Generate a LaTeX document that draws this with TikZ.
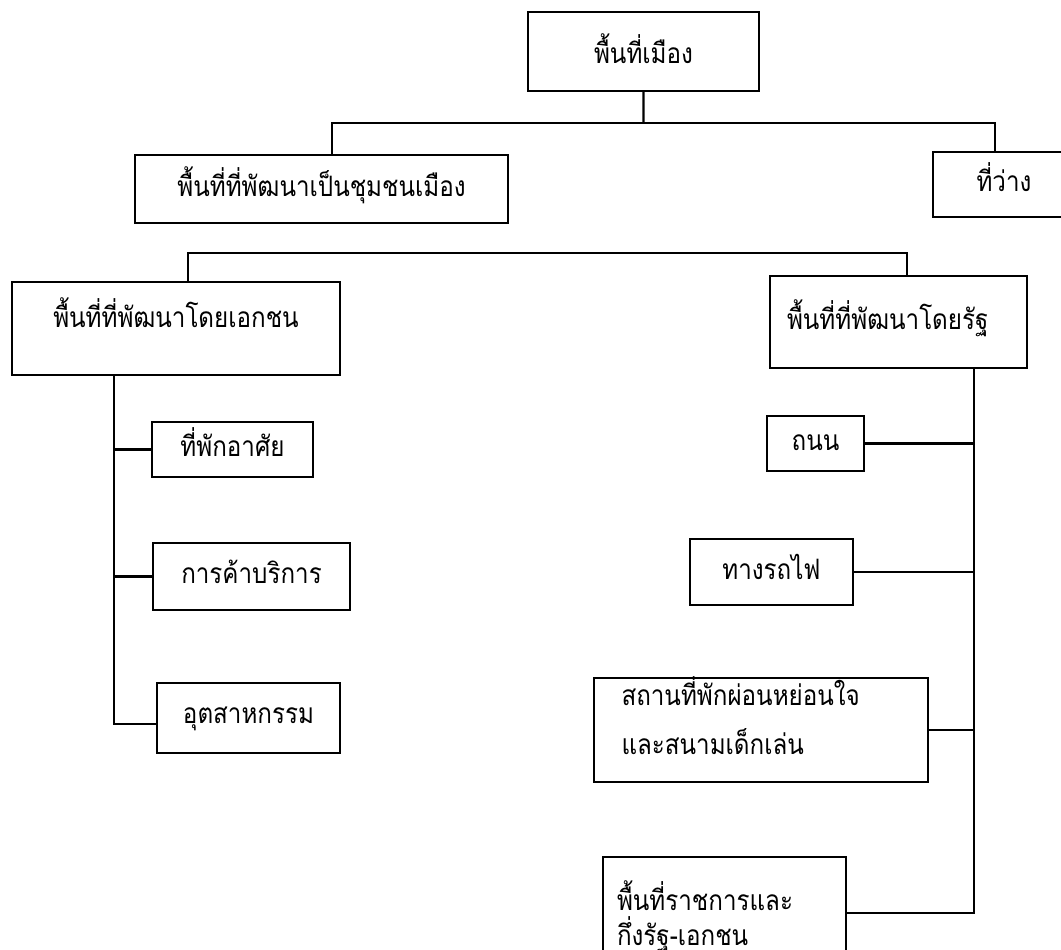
\documentclass[tikz,border=0pt]{standalone}
\usepackage{fontspec}
\newfontfamily\thaifont[Script=Thai,FakeStretch=0.86]{Loma}
\usetikzlibrary{calc}

\begin{document}
\begin{tikzpicture}[scale=0.2]
\tikzstyle{every node}+=[inner sep=0pt]
\tikzstyle{box}=[draw, line width=1.1pt, font=\thaifont\fontsize{16}{28}\selectfont, text height=12pt, text depth=4pt]
\tikzstyle{tallbox}=[draw, line width=1.1pt, font=\thaifont\fontsize{16}{28}\selectfont, align=left]
\tikzstyle{wire}=[line width=1.2pt]
\useasboundingbox (0,0) rectangle (106.1,-94.9);
\clip (0,0) rectangle (106.1,-94.9);
\node [box, minimum width=4.62cm, minimum height=1.58cm, text height=18pt] (city) at (64.35,-5.15) {พื้นที่เมือง};
\node [box, minimum width=7.46cm, minimum height=1.36cm] (urban) at (32.15,-18.9) {พื้นที่ที่พัฒนาเป็นชุมชนเมือง};
\node [box, minimum width=2.84cm, minimum height=1.30cm] (vacant) at (100.4,-18.45) {ที่ว่าง};
\node [box, minimum width=6.56cm, minimum height=1.86cm, text depth=13pt] (private) at (17.6,-32.85) {พื้นที่ที่พัฒนาโดยเอกชน};
\node [box, minimum width=5.14cm, minimum height=1.84cm, text width=4.46cm, align=left] (state) at (89.85,-32.2) {พื้นที่ที่พัฒนาโดยรัฐ};
\node [box, minimum width=3.22cm, minimum height=1.10cm] (housing) at (23.25,-44.95) {ที่พักอาศัย};
\node [box, minimum width=3.94cm, minimum height=1.34cm] (commerce) at (25.15,-57.65) {การค้าบริการ};
\node [box, minimum width=3.66cm, minimum height=1.40cm, text depth=6pt] (industry) at (24.85,-71.8) {อุตสาหกรรม};
\node [box, minimum width=1.94cm, minimum height=1.10cm] (road) at (81.55,-44.35) {ถนน};
\node [box, minimum width=3.26cm, minimum height=1.32cm] (rail) at (77.15,-57.2) {ทางรถไฟ};
\node [tallbox, minimum width=6.68cm, minimum height=2.08cm, text width=5.58cm] (park) at (76.1,-73) {\smash{สถานที่พักผ่อนหย่อนใจ}\\\smash{และสนามเด็กเล่น}};
\node [tallbox, minimum width=4.86cm, minimum height=2.84cm, text width=4.3cm] (office) at (72.45,-92.8) {\smash{พื้นที่ราชการและ}\\[-8pt]\smash{กึ่งรัฐ-เอกชน}};
\coordinate (bus1) at (64.35,-12.3);
\coordinate (bus2) at (50,-25.3);
\coordinate (ptrunk) at (11.4,-72.4);
\coordinate (strunk) at (97.4,-91.3);
\draw [wire] (city) -- (bus1);
\draw [wire] (bus1) -| ($(urban.north)+(1.05,0)$);
\draw [wire] (bus1) -| ($(vacant.north)+(-0.9,0)$);
\draw [wire] ($(private.north)+(1.2,0)$) |- (bus2) -| ($(state.north)+(0.85,0)$);
\draw [wire] (private.south -| ptrunk) -- (ptrunk) -- (industry.west |- ptrunk);
\draw [wire] (housing.west) -- (housing.west -| ptrunk);
\draw [wire] (commerce.west) -- (commerce.west -| ptrunk);
\draw [wire] (state.south -| strunk) -- (strunk) -- (office.east |- strunk);
\draw [wire] (road.east) -- (road.east -| strunk);
\draw [wire] (rail.east) -- (rail.east -| strunk);
\draw [wire] (park.east) -- (park.east -| strunk);
\end{tikzpicture}
\end{document}
